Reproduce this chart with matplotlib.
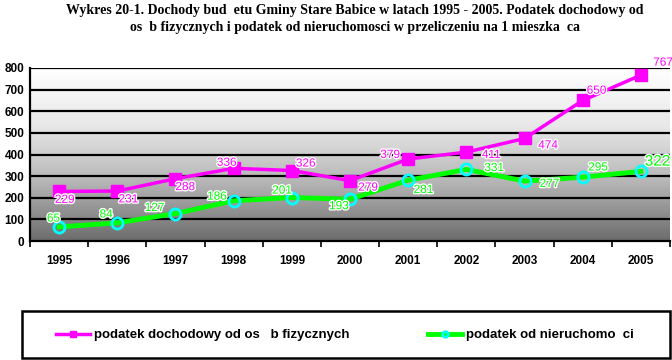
import numpy as np
import matplotlib
matplotlib.use("Agg")
import matplotlib.pyplot as plt
import matplotlib.patheffects as pe
from matplotlib.patches import Rectangle
from matplotlib.colors import LinearSegmentedColormap

years = ["1995", "1996", "1997", "1998", "1999", "2000", "2001", "2002", "2003", "2004", "2005"]
podatek_dochodowy = [229, 231, 288, 336, 326, 279, 379, 411, 474, 650, 767]
podatek_nieruchomosci = [65, 84, 127, 186, 201, 193, 281, 331, 277, 295, 322]
yticks = [0, 100, 200, 300, 400, 500, 600, 700, 800]

title = ("Wykres 20-1. Dochody bud  etu Gminy Stare Babice w latach 1995 - 2005. Podatek dochodowy od\n"
         "os  b fizycznych i podatek od nieruchomosci w przeliczeniu na 1 mieszka  ca")
label1 = "podatek dochodowy od os   b fizycznych"
label2 = "podatek od nieruchomo  ci"

# label offsets (points) for data labels
off1 = [(4, -6), (8, -6), (7, -6), (-5, 4), (10, 5), (13, -5), (-13, 3), (18, -2), (17, -5), (10, 7), (16, 9)]
off2 = [(-4, 6), (-8, 6), (-15, 4), (-12, 3), (-7, 5), (-8, -5), (11, -7), (20, 1), (18, -2), (11, 7), (12, 7)]

DPI = 100
fig = plt.figure(figsize=(6.72, 3.60), dpi=DPI)
W, H = 672, 360
ax = fig.add_axes([30 / W, 1 - 241 / H, 640 / W, (241 - 68) / H])

x = np.arange(len(years))
ax.set_xlim(-0.5, len(years) - 0.5)
ax.set_ylim(0, 800)

# gradient background
cmap = LinearSegmentedColormap.from_list("g", ["#6c6c6c", "#b4b4b4", "#e8e8e8", "#ffffff"])
grad = np.linspace(0, 1, 256).reshape(-1, 1)
ax.imshow(grad, extent=[-0.5, len(years) - 0.5, 0, 800], origin="lower",
          aspect="auto", cmap=cmap, zorder=0)

for v in yticks[1:]:
    ax.axhline(v, color="black", lw=1.6, zorder=1)

ax.plot(x, podatek_dochodowy, color="#ff00ff", lw=2.5, marker="s", ms=9,
        mfc="#ff00ff", mec="#ff00ff", zorder=3, label=label1)
ax.plot(x, podatek_nieruchomosci, color="#00ff00", lw=3.5, marker="o", ms=8,
        mfc="none", mec="#00ffff", mew=2, zorder=3, label=label2)

halo = [pe.withStroke(linewidth=2, foreground="white")]
for i, v in enumerate(podatek_dochodowy):
    ax.annotate(str(v), (x[i], v), xytext=off1[i], textcoords="offset points",
                ha="center", va="center", color="#ff00ff", fontsize=8.5,
                family="Liberation Sans", path_effects=halo, zorder=5)
for i, v in enumerate(podatek_nieruchomosci):
    ax.annotate(str(v), (x[i], v), xytext=off2[i], textcoords="offset points",
                ha="center", va="center", color="#00ff00",
                fontsize=11 if i == len(years) - 1 else 8.5,
                family="Liberation Sans", path_effects=halo, zorder=5)

ax.set_xticks(x)
ax.set_xticklabels(years, fontsize=8.5, fontweight="bold", family="Liberation Sans")
ax.tick_params(axis="x", which="major", length=0, pad=10)
ax.set_xticks(np.arange(-0.5, len(years)), minor=True)
ax.tick_params(axis="x", which="minor", length=4, width=1.2, direction="out")
ax.set_yticks(yticks)
ax.set_yticklabels([str(v) for v in yticks], fontsize=8.5, fontweight="bold", family="Liberation Sans")
ax.tick_params(axis="y", length=0, pad=4)

for s in ["top", "right"]:
    ax.spines[s].set_visible(False)
ax.spines["left"].set_linewidth(1.6)
ax.spines["bottom"].set_linewidth(1.6)
ax.spines["left"].set_zorder(2)

fig.text(355 / W, 1 - 19 / H, title, ha="center", va="center", fontsize=10,
         fontweight="bold", family="Liberation Serif", linespacing=1.35)

# legend box
fig.patches.append(Rectangle((22 / W, 1 - 358 / H), 648 / W, 47 / H, transform=fig.transFigure,
                             fill=False, lw=1.8, edgecolor="black"))
h, l = ax.get_legend_handles_labels()
leg = fig.legend(h, l, loc="center", bbox_to_anchor=(345 / W, 1 - 335 / H), ncol=2,
                 frameon=False, handlelength=2.6, handletextpad=0.3, columnspacing=5.9,
                 prop={"family": "Liberation Sans", "weight": "bold", "size": 9.5},
                 markerscale=0.5)

fig.savefig("out.png", dpi=DPI, facecolor="white")
